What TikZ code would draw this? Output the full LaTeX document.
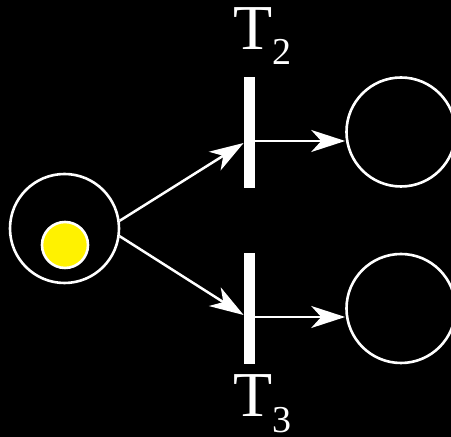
\documentclass[tikz,border=0pt]{standalone}
\usepackage{fontspec}
\setmainfont{Liberation Serif}
\usetikzlibrary{arrows.meta}

\begin{document}
\begin{tikzpicture}[x=0.5pt,y=-0.5pt,>={Stealth[length=17pt,width=11pt,inset=5pt]},
  place/.style={draw=white,line width=1.3pt,circle,inner sep=0pt,minimum size=54.5pt},
  bar/.style={fill=white,inner sep=0pt,minimum width=5.5pt,minimum height=55.5pt},
  arc/.style={->,white,line width=1.25pt},
  lbl/.style={text=white,inner sep=0pt,anchor=base west,font=\fontsize{32}{32}\selectfont}]
\useasboundingbox (0,0) rectangle (451,437);
\fill[black] (0,0) rectangle (451,437);
% places
\node[place] (p1) at (64.5,228.5) {};
\node[circle,fill=yellow,draw=white,line width=1.3pt,inner sep=0pt,minimum size=23pt] (tok) at (65,245) {};
\node[place] (p2) at (401,132) {};
\node[place] (p3) at (401,308.5) {};
% transitions
\node[bar] (t2) at (249.5,132.5) {};
\node[bar] (t3) at (249.5,308.5) {};
\node[lbl] (l2) at (233,50) {T\raisebox{-7.5pt}{\fontsize{19}{19}\selectfont 2}};
\node[lbl] (l3) at (233,417) {T\raisebox{-8pt}{\fontsize{19}{19}\selectfont 3}};
% arcs
\draw[arc] (p1.8) -- ([yshift=-5.25pt]t2.west);
\draw[arc] (p1.-8) -- ([yshift=-3.25pt]t3.west);
\draw[arc] ([yshift=-4.25pt]t2.east) -- ([yshift=-4.25pt]t2.east -| p2.west);
\draw[arc] ([yshift=-4.25pt]t3.east) -- ([yshift=-4.25pt]t3.east -| p3.west);
\end{tikzpicture}
\end{document}
